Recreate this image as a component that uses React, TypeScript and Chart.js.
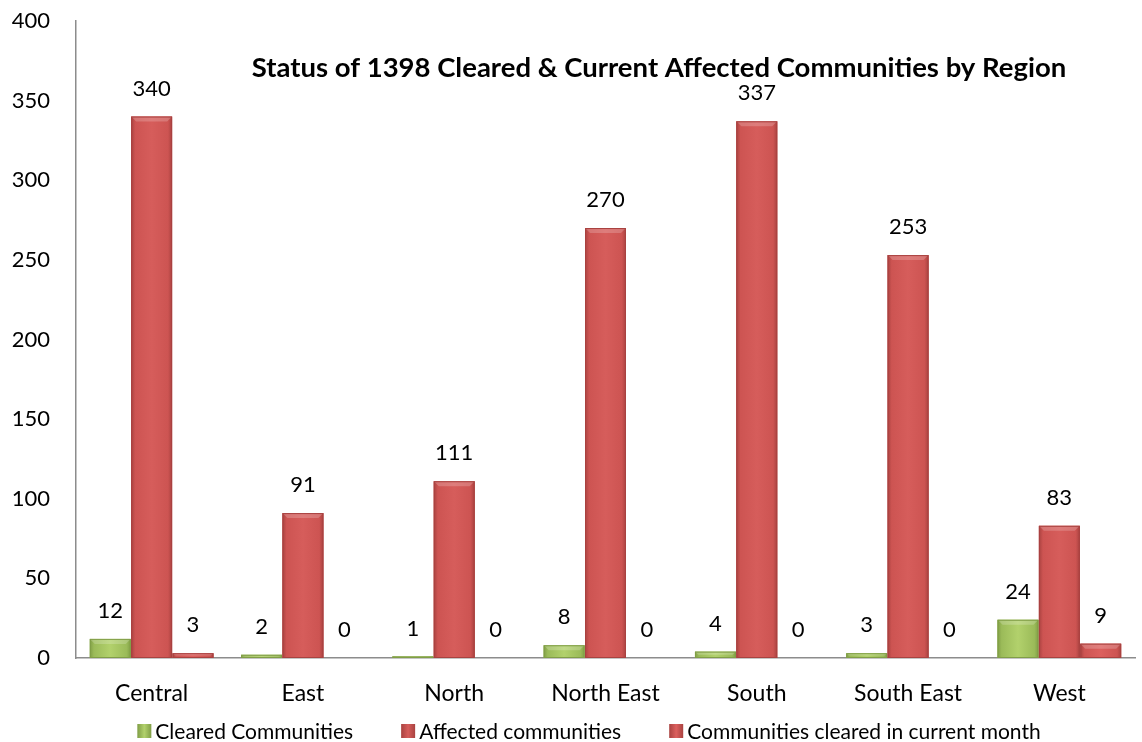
import React, { useEffect, useRef } from "react";
import { Chart, registerables } from "chart.js";

Chart.register(...registerables);

const categories = ["Central", "East", "North", "North East", "South", "South East", "West"];
const clearedCommunities = [12, 2, 1, 8, 4, 3, 24];
const affectedCommunities = [340, 91, 111, 270, 337, 253, 83];
const clearedCurrentMonth = [3, 0, 0, 0, 0, 0, 9];
const seriesLabels = ["Cleared Communities", "Affected communities", "Communities cleared in current month"];
const titleText = "Status of 1398 Cleared & Current Affected Communities by Region";

const FONT = "Lato, 'Open Sans', sans-serif";

const palette = [
  { base: "#9BBB59", light: "#B2D16C", dark: "#809E46" },
  { base: "#CD5452", light: "#D65D5B", dark: "#A94240" },
  { base: "#CD5452", light: "#DC605E", dark: "#A94240" },
];

const bevelPlugin = {
  id: "bevel",
  afterDatasetsDraw(chart: any) {
    const ctx = chart.ctx;
    chart.data.datasets.forEach((ds: any, di: number) => {
      const meta = chart.getDatasetMeta(di);
      const pal = palette[di];
      meta.data.forEach((bar: any) => {
        const { x, y, base, width } = bar.getProps(["x", "y", "base", "width"], true);
        const h = base - y;
        if (h <= 0.5) return;
        const l = x - width / 2;
        const r = x + width / 2;
        const g = ctx.createLinearGradient(l, 0, r, 0);
        g.addColorStop(0, pal.dark);
        g.addColorStop(0.1, pal.base);
        g.addColorStop(0.5, pal.light);
        g.addColorStop(0.9, pal.base);
        g.addColorStop(1, pal.dark);
        ctx.save();
        ctx.fillStyle = g;
        ctx.fillRect(l, y, width, h);
        const b = Math.min(5, h / 2);
        ctx.fillStyle = "rgba(255,255,255,0.2)";
        ctx.beginPath();
        ctx.moveTo(l, y);
        ctx.lineTo(r, y);
        ctx.lineTo(r - b, y + b);
        ctx.lineTo(l + b, y + b);
        ctx.closePath();
        ctx.fill();
        ctx.strokeStyle = pal.dark;
        ctx.lineWidth = 1;
        ctx.strokeRect(l + 0.5, y + 0.5, width - 1, h - 1);
        ctx.restore();
      });
    });
  },
};

const labelsPlugin = {
  id: "valueLabels",
  afterDatasetsDraw(chart: any) {
    const ctx = chart.ctx;
    ctx.save();
    ctx.font = `22px ${FONT}`;
    ctx.fillStyle = "#000";
    ctx.textAlign = "center";
    ctx.textBaseline = "middle";
    chart.data.datasets.forEach((ds: any, di: number) => {
      const meta = chart.getDatasetMeta(di);
      meta.data.forEach((bar: any, i: number) => {
        const { x, y } = bar.getProps(["x", "y"], true);
        ctx.fillText(String(ds.data[i]), x, y - 28);
      });
    });
    ctx.restore();
  },
};

const titleLegendPlugin = {
  id: "titleLegend",
  afterDraw(chart: any) {
    const ctx = chart.ctx;
    ctx.save();
    ctx.font = `bold 27.5px ${FONT}`;
    ctx.fillStyle = "#000";
    ctx.textAlign = "center";
    ctx.textBaseline = "middle";
    ctx.fillText(titleText, 659, 68);

    ctx.font = `21px ${FONT}`;
    ctx.textAlign = "left";
    const box = 14;
    const gapText = 4;
    const spacing = 48;
    const widths = seriesLabels.map((t) => box + gapText + ctx.measureText(t).width);
    const total = widths.reduce((a, b) => a + b, 0) + spacing * (widths.length - 1);
    let cx = 589 - total / 2;
    const cy = 731;
    seriesLabels.forEach((t, i) => {
      const pal = palette[i];
      const g = ctx.createLinearGradient(cx, 0, cx + box, 0);
      g.addColorStop(0, pal.dark);
      g.addColorStop(0.5, pal.light);
      g.addColorStop(1, pal.dark);
      ctx.fillStyle = g;
      ctx.fillRect(cx, cy - box / 2, box, box);
      ctx.fillStyle = "#000";
      ctx.fillText(t, cx + box + gapText, cy + 1);
      cx += widths[i] + spacing;
    });
    ctx.restore();
  },
};

export default function App() {
  const ref = useRef<HTMLCanvasElement | null>(null);
  useEffect(() => {
    if (!ref.current) return;
    const data = [clearedCommunities, affectedCommunities, clearedCurrentMonth];
    const chart = new Chart(ref.current, {
      type: "bar",
      data: {
        labels: categories,
        datasets: data.map((d, i) => ({
          label: seriesLabels[i],
          data: d,
          backgroundColor: palette[i].base,
          borderWidth: 0,
          barPercentage: 0.99,
          categoryPercentage: 0.82,
        })),
      },
      options: {
        animation: false,
        responsive: true,
        maintainAspectRatio: false,
        layout: { padding: { top: 21, right: 7, bottom: 0, left: 0 } },
        plugins: {
          legend: { display: false },
          title: { display: false },
          tooltip: { enabled: false },
        },
        scales: {
          x: {
            grid: { display: false, drawTicks: false },
            border: { display: true, color: "#8C8C8C", width: 1.5 },
            ticks: { font: { family: FONT, size: 23 }, color: "#000", padding: 22 },
            afterFit: (s: any) => {
              s.height = 84;
              s.paddingLeft = 0;
              s.paddingRight = 0;
            },
          },
          y: {
            min: 0,
            max: 400,
            grid: { display: false, drawTicks: false },
            border: { display: true, color: "#8C8C8C", width: 1.5 },
            ticks: { stepSize: 50, font: { family: FONT, size: 22 }, color: "#000", padding: 26 },
            afterFit: (s: any) => {
              s.width = 76;
              s.paddingTop = 0;
              s.paddingBottom = 0;
            },
          },
        },
      },
      plugins: [bevelPlugin, labelsPlugin, titleLegendPlugin],
    });
    return () => chart.destroy();
  }, []);
  return (
    <div style={{ position: "absolute", left: 0, top: 0, width: 1142, height: 742, background: "#fff" }}>
      <canvas ref={ref} />
    </div>
  );
}
